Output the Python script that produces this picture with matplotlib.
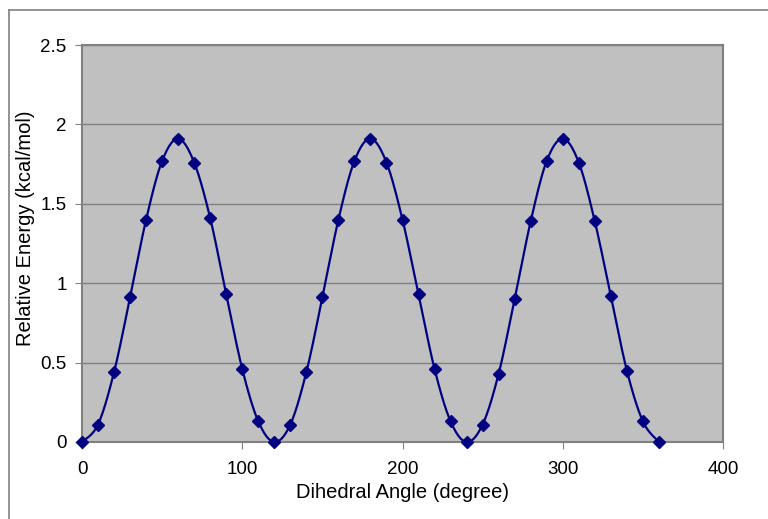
import numpy as np
import matplotlib.pyplot as plt
from matplotlib.lines import Line2D

angles = list(range(0, 361, 10))
energy = [0.00, 0.11, 0.44, 0.91, 1.40, 1.77, 1.91, 1.76, 1.41, 0.93, 0.46, 0.13,
          0.00, 0.11, 0.44, 0.91, 1.40, 1.77, 1.91, 1.76, 1.40, 0.93, 0.46, 0.13,
          0.00, 0.11, 0.43, 0.90, 1.39, 1.77, 1.91, 1.76, 1.39, 0.92, 0.45, 0.13,
          0.00]


def smooth(x, y, n=20):
    # Catmull-Rom curve through the points, like a spreadsheet "smoothed line"
    x = np.asarray(x, float)
    y = np.asarray(y, float)
    px = np.concatenate([[x[0]], x, [x[-1]]])
    py = np.concatenate([[y[0]], y, [y[-1]]])
    t = np.linspace(0, 1, n, endpoint=False)
    xs, ys = [], []
    for i in range(1, len(px) - 2):
        for p, out in ((px, xs), (py, ys)):
            p0, p1, p2, p3 = p[i - 1], p[i], p[i + 1], p[i + 2]
            out.extend(0.5 * (2 * p1 + (-p0 + p2) * t
                              + (2 * p0 - 5 * p1 + 4 * p2 - p3) * t ** 2
                              + (-p0 + 3 * p1 - 3 * p2 + p3) * t ** 3))
    xs.append(x[-1])
    ys.append(y[-1])
    return xs, ys


plt.rcParams['font.family'] = ['Liberation Sans', 'DejaVu Sans']

fig = plt.figure(figsize=(7.68, 5.19), dpi=100)
ax = fig.add_axes([82 / 768, 1 - 442 / 519, (723 - 82) / 768, (442 - 45) / 519])
ax.set_facecolor('#c0c0c0')

sx, sy = smooth(angles, energy)
ax.plot(sx, sy, color='#000080', lw=1.6, zorder=3, clip_on=False)
ax.plot(angles, energy, linestyle='none', marker='D', ms=6, color='#000080',
        zorder=4, clip_on=False)

ax.set_xlim(0, 400)
ax.set_ylim(0, 2.5)
ax.set_xticks([0, 100, 200, 300, 400])
ax.set_yticks([0, 0.5, 1, 1.5, 2, 2.5])
ax.set_yticklabels(['0', '0.5', '1', '1.5', '2', '2.5'])
ax.grid(axis='y', color='#808080', lw=1)
ax.set_axisbelow(True)
for s in ax.spines.values():
    s.set_color('#808080')
    s.set_linewidth(1.5)
ax.tick_params(direction='out', length=5, color='#808080', labelsize=13.5,
               labelcolor='black', pad=6)
ax.tick_params(axis='x', pad=9)

ax.set_xlabel('Dihedral Angle (degree)', fontsize=14.5, labelpad=3)
ax.set_ylabel('Relative Energy (kcal/mol)', fontsize=14.5)
ax.yaxis.set_label_coords(-0.073, 0.539)

# outer chart frame (only top and left edges fall inside the image)
fig.add_artist(Line2D([9 / 768, 1], [1 - 10 / 519, 1 - 10 / 519],
                      transform=fig.transFigure, color='#808080', lw=1.2))
fig.add_artist(Line2D([9 / 768, 9 / 768], [0, 1 - 10 / 519],
                      transform=fig.transFigure, color='#808080', lw=1.2))

fig.savefig('out.png', dpi=100)
